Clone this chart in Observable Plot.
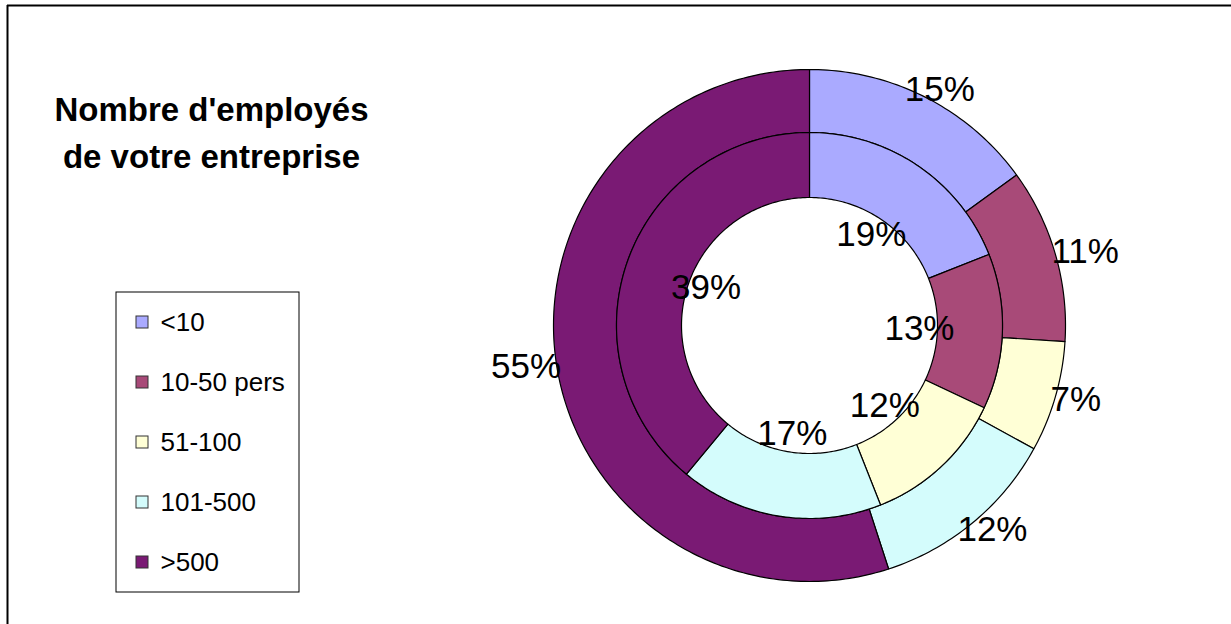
<!DOCTYPE html>
<html><head><meta charset="utf-8">
<script src="https://cdn.jsdelivr.net/npm/d3@7"></script>
<script src="https://cdn.jsdelivr.net/npm/@observablehq/plot@0.6"></script>
<style>body{margin:0;background:#fff} svg{display:block;font-family:"Liberation Sans",Arial,sans-serif}</style>
</head><body><div id="chart"></div>
<script>
const categories = ["<10", "10-50 pers", "51-100", "101-500", ">500"];
const outerValues = [15, 11, 7, 12, 55];
const innerValues = [19, 13, 12, 17, 39];
const colors = ["#aaaaff", "#a84a78", "#ffffd6", "#d4fcfc", "#7a1a74"];
const titleLines = ["Nombre d'employés", "de votre entreprise"];

const W = 1231, H = 624, cx = 809, cy = 325;
const rings = [
  {name: "outer", values: outerValues, r0: 193, r1: 256, labelR: 252, outside: true},
  {name: "inner", values: innerValues, r0: 128, r1: 193, labelR: 110, outside: false}
];
const angle = d3.scaleLinear().domain([0, 100]).range([0, 2 * Math.PI]);
const labelSize = 35;

const polys = [], labels = [];
for (const ring of rings) {
  let start = 0;
  ring.values.forEach((v, i) => {
    const a0 = angle(start), a1 = angle(start + v);
    const n = Math.max(2, Math.ceil((a1 - a0) / (Math.PI / 180)));
    const key = ring.name + i;
    for (let k = 0; k <= n; k++) {
      const a = a0 + (a1 - a0) * k / n;
      polys.push({key, cat: categories[i], x: cx + ring.r1 * Math.sin(a), y: cy - ring.r1 * Math.cos(a)});
    }
    for (let k = n; k >= 0; k--) {
      const a = a0 + (a1 - a0) * k / n;
      polys.push({key, cat: categories[i], x: cx + ring.r0 * Math.sin(a), y: cy - ring.r0 * Math.cos(a)});
    }
    const am = angle(start + v / 2);
    const text = v + "%";
    const w = (0.556 * String(v).length + 0.889) * labelSize;
    const h = 0.72 * labelSize;
    let x = cx + ring.labelR * Math.sin(am), y = cy - ring.labelR * Math.cos(am);
    if (ring.outside) { x += (w / 2) * Math.sin(am); y -= (h / 2) * Math.cos(am); }
    labels.push({x, y, text});
    start += v;
  });
}

const legendTop = 322, legendStep = 60;
const legendRows = categories.map((c, i) => ({cat: c, y: legendTop + i * legendStep}));
const titleRows = titleLines.map((t, i) => ({text: t, y: 110 + i * 47}));

const chart = Plot.plot({
  width: W, height: H, margin: 0,
  x: {domain: [0, W], range: [0, W], axis: null},
  y: {domain: [0, H], range: [0, H], axis: null},
  color: {domain: categories, range: colors},
  style: {fontFamily: '"Liberation Sans", Arial, sans-serif', background: "#fff"},
  marks: [
    Plot.ruleY([5], {x1: 7, x2: W, stroke: "#000", strokeWidth: 2}),
    Plot.ruleX([7], {y1: 5, y2: H, stroke: "#000", strokeWidth: 2}),
    Plot.line(polys, {x: "x", y: "y", z: "key", fill: "cat", stroke: "#000", strokeWidth: 1.2, curve: "linear-closed"}),
    Plot.text(labels, {x: "x", y: "y", text: "text", fontSize: labelSize, fill: "#000", textAnchor: "middle", lineAnchor: "middle"}),
    Plot.text(titleRows, {x: 211, y: "y", text: "text", fontSize: 33, fontWeight: "bold", fill: "#000", textAnchor: "middle", lineAnchor: "middle"}),
    Plot.rect([0], {x1: 116, x2: 299, y1: 292, y2: 592, fill: "#fff", stroke: "#000", strokeWidth: 1}),
    Plot.rect(legendRows, {x1: 136, x2: 148, y1: d => d.y - 6, y2: d => d.y + 6, fill: "cat", stroke: "#333", strokeWidth: 1}),
    Plot.text(legendRows, {x: 160, y: "y", text: "cat", fontSize: 26, fill: "#000", textAnchor: "start", lineAnchor: "middle"})
  ]
});
document.getElementById("chart").appendChild(chart);
</script>
</body></html>
